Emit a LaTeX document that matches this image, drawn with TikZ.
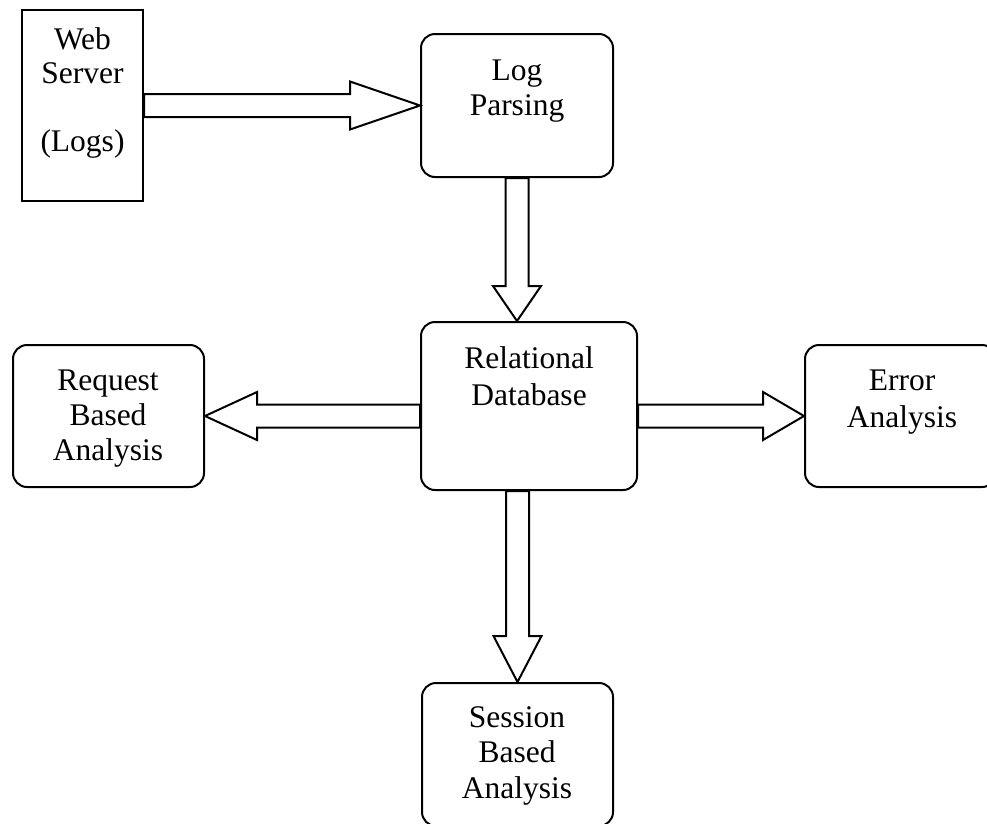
\documentclass[tikz,border=0pt]{standalone}
\usepackage{fontspec}
\setmainfont{Liberation Serif}
\usetikzlibrary{calc}
\tikzset{
  box/.style={draw, line width=2pt, inner sep=0pt},
  rbox/.style={box, rounded corners=14pt},
  lbl/.style={align=center, anchor=base, inner sep=0pt, font=\fontsize{31.5}{36}\selectfont},
  blk/.style={draw, line width=2pt, fill=white, line join=miter}
}
% block arrow: #1 start, #2 tip, #3 head length
\newcommand{\blockarr}[3]{%
  \coordinate (bh) at ($(#2)!#3!(#1)$);
  \draw[blk] ($(#1)!11.5pt!90:(#2)$) -- ($(bh)!11.5pt!-90:(#1)$)
    -- ($(bh)!24pt!-90:(#1)$) -- (#2) -- ($(bh)!24pt!90:(#1)$)
    -- ($(bh)!11.5pt!90:(#1)$) -- ($(#1)!11.5pt!-90:(#2)$) -- cycle;
}
\begin{document}
\begin{tikzpicture}[x=1pt,y=-1pt]
\useasboundingbox (0,0) rectangle (987,823);
\clip (0,0) rectangle (987,823);
% boxes
\node[box,  minimum width=121pt, minimum height=191pt] (ws) at (82.5,105.5) {};
\node[rbox, minimum width=192pt, minimum height=143pt] (lp) at (517,105.5) {};
\node[rbox, minimum width=216pt, minimum height=168pt] (rd) at (529,406) {};
\node[rbox, minimum width=191pt, minimum height=142pt] (rq) at (108.5,416) {};
\node[rbox, minimum width=191pt, minimum height=142pt] (er) at (900.5,416) {};
\node[rbox, minimum width=191pt, minimum height=143pt] (ss) at (517.5,754.5) {};
% labels (anchor = baseline of last line)
\node[lbl, font=\fontsize{31.5}{34}\selectfont] (wst) at (82.5,151) {Web\\Server\\\mbox{}\\(Logs)};
\node[lbl, font=\fontsize{31.5}{35}\selectfont] (lpt) at (517,115) {Log\\Parsing};
\node[lbl, font=\fontsize{31.5}{37}\selectfont] (rdt) at (529,405) {Relational\\Database};
\node[lbl, font=\fontsize{31.5}{35}\selectfont] (rqt) at (108,460) {Request\\Based\\Analysis};
\node[lbl, font=\fontsize{31.5}{37}\selectfont] (ert) at (902,427) {Error\\Analysis};
\node[lbl, font=\fontsize{31.5}{35.5}\selectfont] (sst) at (517,798) {Session\\Based\\Analysis};
% connector end points
\coordinate (a1) at (lp.south |- rd.north);
\coordinate (a2) at (rd.west |- rq.east);
\coordinate (a3) at (rd.east |- er.west);
\coordinate (a4) at (ss.north |- rd.south);
% block arrows
\blockarr{ws.east}{lp.west}{70pt}
\blockarr{lp.south}{a1}{35pt}
\blockarr{a2}{rq.east}{52pt}
\blockarr{a3}{er.west}{41pt}
\blockarr{a4}{ss.north}{46pt}
\end{tikzpicture}
\end{document}
